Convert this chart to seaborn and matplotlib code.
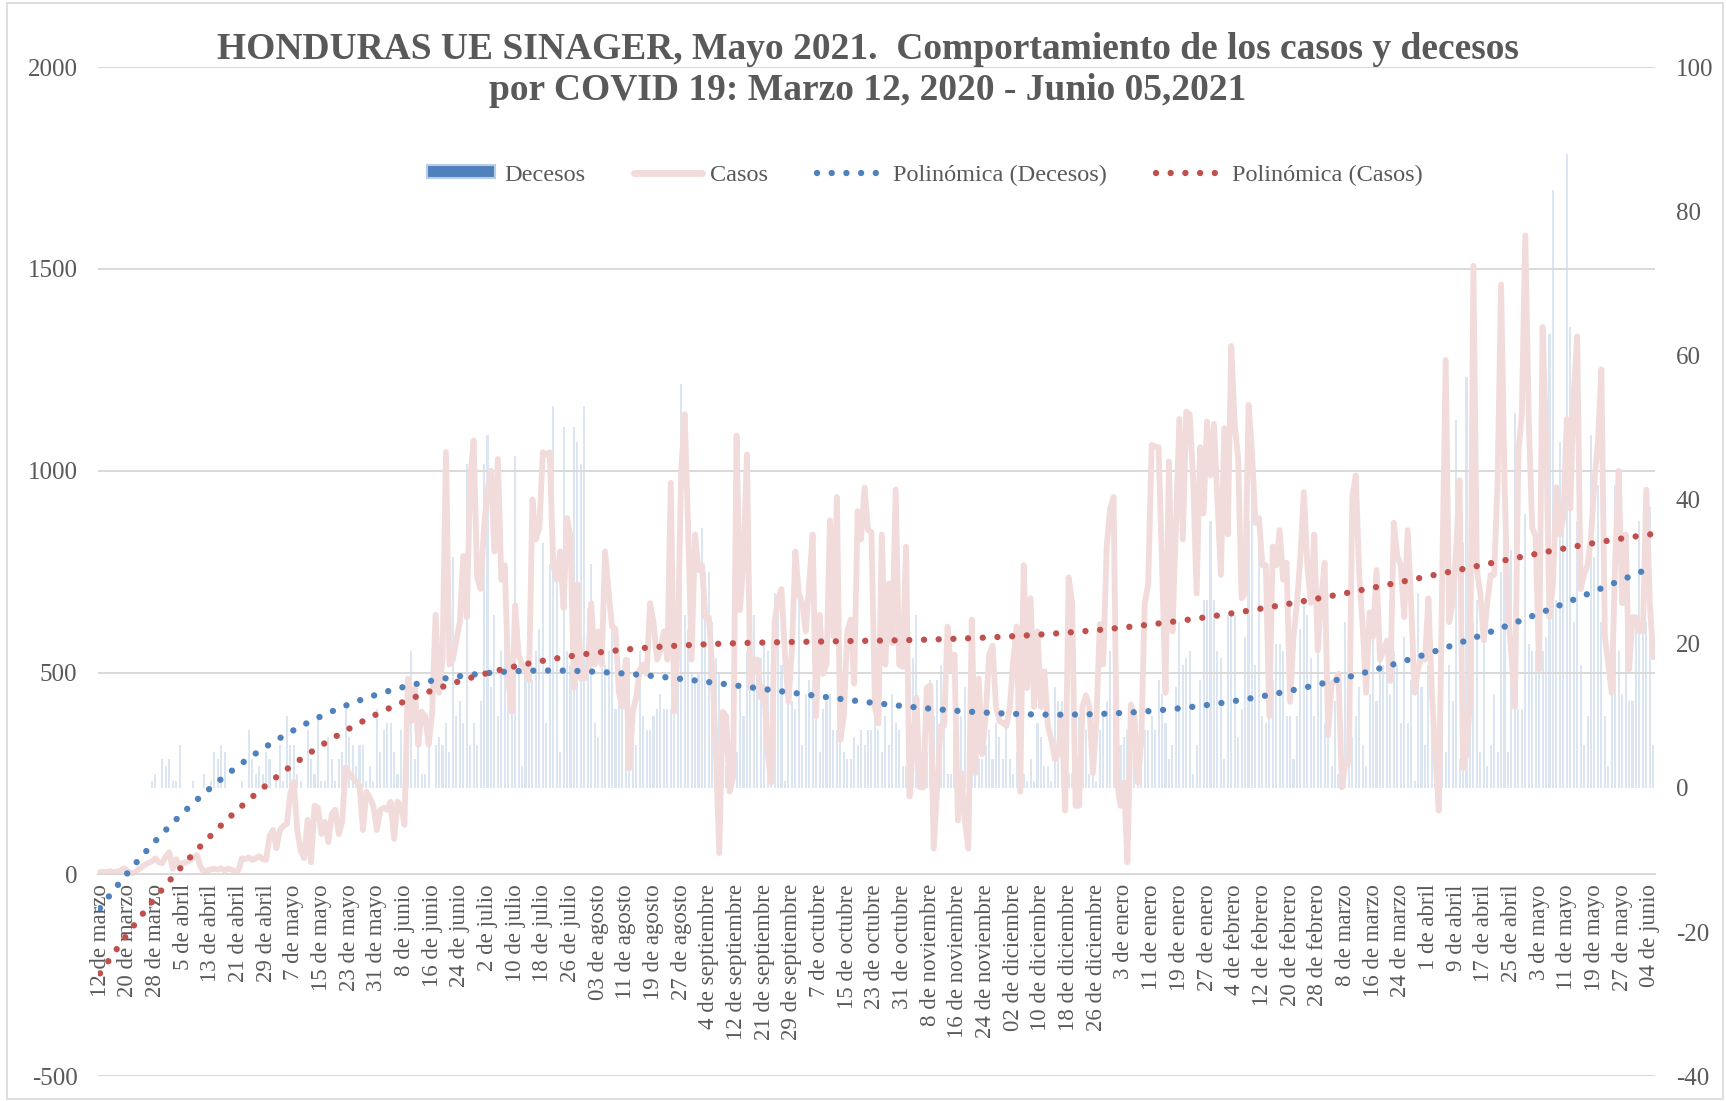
import numpy as np
import pandas as pd
import matplotlib
matplotlib.use("Agg")
import matplotlib.pyplot as plt
import seaborn as sns
from matplotlib.patches import Patch, Rectangle
from matplotlib.lines import Line2D

# ---------------- data (daily, 12 Mar 2020 - 05 Jun 2021) ----------------
casos = [
    6, 6, 6, 8, 6, 7, 10, 15, 8, 3,
    5, 12, 18, 24, 29, 32, 40, 30, 28, 45,
    55, 14, 38, 20, 28, 30, 35, 42, 48, 20,
    6, 10, 12, 14, 12, 15, 10, 14, 12, 8,
    10, 40, 38, 42, 36, 40, 45, 38, 36, 95,
    110, 65, 110, 120, 125, 200, 230, 110, 60, 40,
    135, 30, 170, 165, 100, 130, 80, 150, 160, 100,
    130, 265, 250, 240, 230, 220, 110, 205, 190, 170,
    110, 160, 165, 160, 180, 88, 180, 170, 123, 485,
    380, 462, 321, 403, 392, 321, 400, 643, 450, 532,
    1046, 520, 532, 580, 625, 789, 637, 976, 1075, 736,
    707, 859, 950, 1000, 800, 1029, 730, 766, 485, 403,
    666, 544, 520, 503, 480, 929, 830, 859, 1046, 1040,
    1046, 766, 730, 800, 660, 883, 836, 462, 719, 485,
    485, 508, 672, 520, 602, 520, 800, 700, 614, 608,
    450, 415, 532, 263, 403, 438, 508, 520, 497, 672,
    625, 532, 555, 602, 532, 970, 403, 567, 1000, 1140,
    859, 532, 842, 754, 766, 637, 637, 508, 310, 53,
    403, 392, 205, 240, 1087, 655, 777, 1040, 462, 532,
    532, 438, 462, 300, 228, 625, 684, 707, 544, 427,
    555, 800, 696, 672, 602, 720, 842, 392, 643, 497,
    520, 877, 590, 935, 333, 392, 602, 631, 473, 900,
    830, 958, 853, 848, 415, 374, 842, 520, 720, 573,
    953, 520, 514, 812, 193, 321, 438, 216, 216, 462,
    468, 64, 216, 368, 368, 614, 508, 544, 134, 251,
    134, 64, 631, 251, 485, 298, 392, 544, 567, 415,
    380, 375, 368, 415, 532, 614, 205, 766, 462, 684,
    415, 602, 415, 503, 368, 333, 286, 298, 392, 158,
    736, 672, 170, 170, 415, 444, 415, 251, 380, 620,
    520, 812, 906, 935, 228, 170, 228, 30, 421, 392,
    228, 333, 672, 719, 1064, 1060, 1058, 766, 450, 1023,
    602, 859, 1128, 830, 1146, 1140, 976, 696, 1058, 894,
    1122, 988, 1116, 929, 742, 1105, 842, 1309, 1116, 1029,
    684, 696, 1163, 1046, 871, 883, 766, 766, 392, 812,
    766, 853, 730, 772, 427, 590, 672, 789, 947, 766,
    672, 842, 555, 684, 772, 345, 473, 479, 497, 216,
    275, 275, 935, 988, 742, 614, 450, 649, 590, 754,
    532, 555, 579, 479, 871, 789, 766, 637, 853, 672,
    450, 508, 538, 532, 684, 450, 298, 158, 742, 1274,
    625, 672, 800, 976, 263, 298, 427, 1508, 754, 696,
    579, 672, 742, 742, 976, 1461, 976, 649, 544, 415,
    1046, 1140, 1583, 1128, 859, 836, 508, 1356, 1093, 637,
    719, 959, 842, 883, 1128, 906, 1187, 1333, 707, 742,
    766, 836, 976, 1070, 1251, 590, 520, 450, 777, 1000,
    672, 842, 508, 637, 637, 602, 602, 953, 672, 538,
]

# no deaths reported before the first one (blank cells in the sheet)
decesos = [
    None, None, None, None, None, None, None, None, None, None,
    None, None, None, None, None, 1, 2, 0, 4, 3,
    4, 1, 1, 6, 0, 0, 0, 1, 0, 0,
    2, 0, 1, 5, 4, 6, 5, 0, 0, 0,
    0, 1, 0, 8, 4, 2, 3, 2, 5, 4,
    0, 1, 6, 1, 10, 6, 6, 2, 1, 0,
    8, 4, 2, 10, 1, 1, 7, 4, 1, 4,
    5, 11, 7, 6, 3, 6, 6, 1, 3, 1,
    11, 5, 8, 9, 9, 5, 2, 8, 2, 8,
    19, 4, 8, 2, 2, 6, 0, 6, 7, 6,
    9, 5, 32, 10, 12, 9, 45, 6, 9, 6,
    12, 45, 49, 14, 24, 10, 19, 21, 17, 14,
    46, 18, 3, 17, 15, 15, 19, 22, 34, 9,
    31, 53, 31, 5, 50, 19, 17, 50, 48, 45,
    53, 25, 31, 9, 7, 17, 17, 19, 22, 11,
    15, 11, 15, 18, 10, 6, 19, 10, 8, 8,
    10, 11, 13, 11, 11, 11, 17, 30, 56, 24,
    22, 16, 15, 16, 36, 30, 30, 23, 18, 16,
    11, 3, 2, 5, 5, 14, 10, 19, 23, 24,
    15, 18, 20, 19, 10, 27, 26, 17, 1, 12,
    12, 11, 26, 6, 13, 15, 15, 16, 5, 11,
    12, 13, 8, 8, 19, 5, 4, 4, 7, 6,
    8, 6, 8, 8, 14, 8, 5, 10, 6, 13,
    9, 8, 3, 3, 6, 18, 24, 4, 4, 5,
    15, 10, 15, 17, 9, 2, 2, 8, 4, 10,
    14, 2, 10, 2, 4, 4, 6, 8, 4, 9,
    7, 4, 10, 4, 2, 5, 10, 2, 1, 4,
    1, 9, 7, 3, 3, 1, 14, 12, 12, 9,
    2, 2, 7, 10, 10, 8, 2, 2, 1, 8,
    10, 12, 19, 12, 1, 6, 7, 8, 8, 8,
    7, 6, 8, 8, 10, 8, 15, 13, 9, 4,
    6, 14, 23, 17, 18, 19, 2, 6, 15, 26,
    26, 37, 26, 19, 18, 4, 24, 24, 24, 7,
    11, 21, 37, 47, 17, 36, 10, 9, 10, 15,
    20, 20, 19, 10, 10, 4, 10, 22, 26, 24,
    18, 10, 20, 15, 9, 13, 3, 12, 2, 2,
    23, 4, 7, 10, 14, 6, 3, 13, 26, 12,
    19, 17, 17, 13, 19, 17, 9, 21, 9, 15,
    1, 27, 14, 6, 17, 10, 4, 4, 37, 5,
    17, 12, 51, 4, 34, 57, 12, 23, 26, 5,
    20, 3, 6, 13, 5, 30, 37, 5, 33, 52,
    11, 11, 38, 20, 19, 19, 19, 19, 21, 63,
    83, 26, 48, 36, 88, 64, 23, 37, 17, 6,
    10, 49, 32, 42, 23, 10, 3, 18, 42, 19,
    13, 23, 12, 12, 23, 37, 26, 23, 39, 6,
]

tick_labels = [
    "12 de marzo", "20 de marzo", "28 de marzo", "5 de abril", "13 de abril",
    "21 de abril", "29 de abril", "7 de mayo", "15 de mayo", "23 de mayo",
    "31 de mayo", "8 de junio", "16 de junio", "24 de junio", "2 de julio",
    "10 de julio", "18 de julio", "26 de julio", "03 de agosto", "11 de agosto",
    "19 de agosto", "27 de agosto", "4 de septiembre", "12 de septiembre",
    "21 de septiembre", "29 de septiembre", "7 de octubre", "15 de octubre",
    "23 de octubre", "31 de octubre", "8 de noviembre", "16 de noviembre",
    "24 de noviembre", "02 de diciembre", "10 de diciembre", "18 de diciembre",
    "26 de diciembre", "3 de enero", "11 de enero", "19 de enero", "27 de enero",
    "4 de febrero", "12 de febrero", "20 de febrero", "28 de febrero",
    "8 de marzo", "16 de marzo", "24 de marzo", "1 de abril", "9 de abril",
    "17 de abril", "25 de abril", "3 de mayo", "11 de mayo", "19 de mayo",
    "27 de mayo", "04 de junio",
]

left_ticks = [-500, 0, 500, 1000, 1500, 2000]
right_ticks = [-40, -20, 0, 20, 40, 60, 80, 100]
series_names = ["Decesos", "Casos", "Polinómica (Decesos)", "Polinómica (Casos)"]
title = ("HONDURAS UE SINAGER, Mayo 2021.  Comportamiento de los casos y decesos\n"
         "por COVID 19: Marzo 12, 2020 - Junio 05,2021")
poly_order = 4

# ---------------- styling ----------------
C_BAR = "#DCE6F2"
C_BAR_LEG = "#4F81BD"
C_CASOS = "#F2DCDB"
C_TR_DEC = "#4F81BD"
C_TR_CAS = "#C0504D"
C_GRID = "#D9D9D9"
C_TEXT = "#595959"

sns.set_style("white")
plt.rcParams["font.family"] = ["Liberation Serif", "DejaVu Serif"]

n = len(casos)
df = pd.DataFrame({"dia": np.arange(n), "casos": casos,
                   "decesos": pd.array(decesos, dtype="float")})

# polynomial trend lines (least squares over the non-blank cells, x = 1..n)
dd = df.dropna(subset=["decesos"])
p_dec = np.polynomial.Polynomial.fit(dd["dia"] + 1, dd["decesos"], poly_order)
p_cas = np.polynomial.Polynomial.fit(df["dia"] + 1, df["casos"], poly_order)
df["tr_dec"] = p_dec(df["dia"] + 1)
df["tr_cas"] = p_cas(df["dia"] + 1)

fig = plt.figure(figsize=(17.26, 11.01), dpi=100)
L, R = 98.3 / 1726, 1655 / 1726
B, T = 1 - 1076.3 / 1101, 1 - 67.0 / 1101
ax = fig.add_axes([L, B, R - L, T - B])
ax2 = ax.twinx()   # deaths bars (right scale)
ax3 = ax.twinx()   # deaths trend (right scale)
ax4 = ax.twinx()   # cases trend (left scale)

ax2.set_zorder(0)
ax.set_zorder(1)
ax3.set_zorder(2)
ax4.set_zorder(3)
for a in (ax, ax3, ax4):
    a.patch.set_visible(False)

# bars
sns.barplot(data=dd, x="dia", y="decesos", ax=ax2, native_scale=True,
            color=C_BAR, width=0.6, errorbar=None, saturation=1, linewidth=0)
# cases line
sns.lineplot(data=df, x="dia", y="casos", ax=ax, color=C_CASOS, linewidth=4.2,
             solid_joinstyle="round", solid_capstyle="round", legend=False)

dot = (0, (0.001, 2.3))
ax3.plot(df["dia"], df["tr_dec"], color=C_TR_DEC, linewidth=4.6,
         linestyle=dot, dash_capstyle="round")
ax4.plot(df["dia"], df["tr_cas"], color=C_TR_CAS, linewidth=4.6,
         linestyle=dot, dash_capstyle="round")

for a in (ax, ax2, ax3, ax4):
    a.set_xlim(-0.5, n - 0.5)
ax.set_ylim(-500, 2000)
ax4.set_ylim(-500, 2000)
ax2.set_ylim(-40, 100)
ax3.set_ylim(-40, 100)
ax3.axis("off")
ax4.axis("off")

# left axis
ax.set_yticks(left_ticks)
ax.set_yticklabels([str(v) for v in left_ticks])
ax.grid(axis="y", color=C_GRID, linewidth=1.4)
ax.grid(axis="x", visible=False)
ax.tick_params(axis="y", length=0, pad=15, labelsize=18, labelcolor=C_TEXT)
# right axis
ax2.set_yticks(right_ticks)
ax2.set_yticklabels([str(v) for v in right_ticks])
ax2.grid(False)
ax2.tick_params(axis="y", length=0, pad=15, labelsize=18, labelcolor=C_TEXT)

# category axis crossing at 0
ax.set_xticks(np.arange(0, 8 * len(tick_labels), 8))
ax.set_xticklabels(tick_labels)
ax.tick_params(axis="x", length=0, pad=7, labelsize=16.5, labelcolor=C_TEXT,
               labelrotation=90)
ax.spines["bottom"].set_position(("data", 0))
ax.spines["bottom"].set_color(C_GRID)
ax.spines["bottom"].set_linewidth(1.4)
for s in ("top", "left", "right"):
    ax.spines[s].set_visible(False)
for s in ax2.spines.values():
    s.set_visible(False)
for a in (ax, ax2):
    a.set_xlabel("")
    a.set_ylabel("")

# legend
handles = [
    Patch(facecolor=C_BAR_LEG, edgecolor="#B9CDE5", linewidth=1.5),
    Line2D([], [], color=C_CASOS, linewidth=5, solid_capstyle="round"),
    Line2D([], [], color=C_TR_DEC, linewidth=4.6, linestyle=dot, dash_capstyle="round"),
    Line2D([], [], color=C_TR_CAS, linewidth=4.6, linestyle=dot, dash_capstyle="round"),
]
fig.legend(handles, series_names, loc="center", bbox_to_anchor=(0.536, 1 - 175 / 1101),
           ncol=4, frameon=False, fontsize=17.5, handlelength=2.8, handleheight=0.45,
           handletextpad=0.35, columnspacing=2.0, labelcolor=C_TEXT)

# title
fig.text(0.503, 1 - 70 / 1101, title, ha="center", va="center", fontsize=27,
         fontweight="bold", color=C_TEXT, linespacing=1.22)

# chart-area border
fig.patches.append(Rectangle((0.004, 0.002), 0.994, 0.995, transform=fig.transFigure,
                             fill=False, edgecolor=C_GRID, linewidth=1.2))

fig.savefig("out.png", dpi=100)
